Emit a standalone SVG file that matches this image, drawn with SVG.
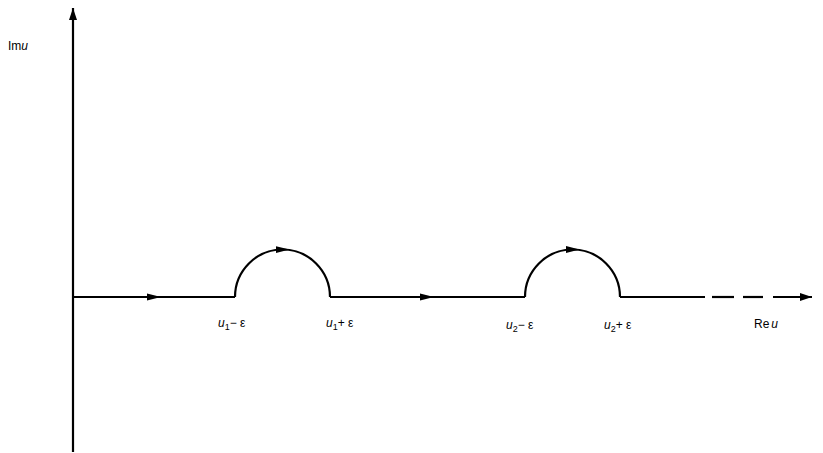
<svg xmlns="http://www.w3.org/2000/svg" width="823" height="453" viewBox="0 0 823 453">
<style>
.ln{fill:none;stroke:#000;stroke-width:2.2}
.t{font-family:"Liberation Sans",Arial,sans-serif;font-size:12px;fill:#000}
.i{font-style:italic}
.s{font-size:9px}
</style>
<defs>
<marker id="ah" viewBox="0 0 12 8" refX="12" refY="4" markerWidth="12" markerHeight="8" markerUnits="userSpaceOnUse" orient="auto">
<path d="M0,0 L12,4 L0,8 Z" fill="#000"/>
</marker>
<marker id="mid" viewBox="0 0 14 8" refX="7" refY="4" markerWidth="14" markerHeight="8" markerUnits="userSpaceOnUse" orient="auto">
<path d="M0,0.5 L14,4 L0,7.5 Z" fill="#000"/>
</marker>
</defs>
<g id="connectors">
<line id="imaxis" class="ln" x1="73" y1="452" x2="73" y2="8" marker-end="url(#ah)"/>
<path id="seg1" class="ln" d="M73,297 L154,297 L235,297" marker-mid="url(#mid)"/>
<path id="arc1" class="ln" d="M235,297 A47.5,47.5 0 0 1 282.5,249.5 A47.5,47.5 0 0 1 330,297" marker-mid="url(#mid)"/>
<path id="seg2" class="ln" d="M330,297 L427,297 L525,297" marker-mid="url(#mid)"/>
<path id="arc2" class="ln" d="M525,297 A47.5,47.5 0 0 1 572.5,249.5 A47.5,47.5 0 0 1 620,297" marker-mid="url(#mid)"/>
<line id="seg3" class="ln" x1="620" y1="297" x2="705" y2="297"/>
<line class="ln" x1="712" y1="297" x2="734" y2="297"/>
<line class="ln" x1="743" y1="297" x2="763" y2="297"/>
<line id="reaxis" class="ln" x1="773" y1="297" x2="812" y2="297" marker-end="url(#ah)"/>
</g>
<g id="label-im"><text class="t" x="8" y="50">Im<tspan class="i">u</tspan></text></g>
<g id="label-re"><text class="t" x="754" y="328">Re<tspan class="i" dx="2">u</tspan></text></g>
<g id="label-u1m"><text class="t" x="218" y="327"><tspan class="i">u</tspan><tspan class="s" dy="3">1</tspan><tspan dy="-3">− ε</tspan></text></g>
<g id="label-u1p"><text class="t" x="326" y="327"><tspan class="i">u</tspan><tspan class="s" dy="3">1</tspan><tspan dy="-3">+ ε</tspan></text></g>
<g id="label-u2m"><text class="t" x="506" y="329"><tspan class="i">u</tspan><tspan class="s" dy="3">2</tspan><tspan dy="-3">− ε</tspan></text></g>
<g id="label-u2p"><text class="t" x="604" y="329"><tspan class="i">u</tspan><tspan class="s" dy="3">2</tspan><tspan dy="-3">+ ε</tspan></text></g>
</svg>
